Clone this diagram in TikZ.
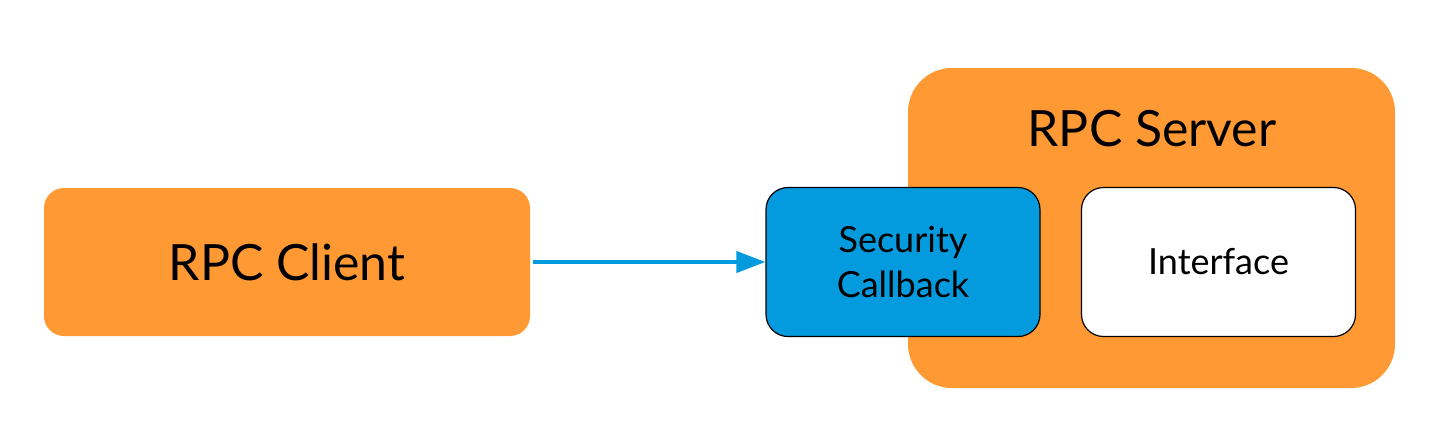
\documentclass[tikz,border=0pt]{standalone}
\usepackage{fontspec}
\setmainfont{Lato}
\usetikzlibrary{arrows.meta}
\definecolor{rpcorange}{RGB}{255,153,51}
\definecolor{rpcblue}{RGB}{3,155,222}
\tikzset{
  block/.style={fill=rpcorange,rounded corners=10pt,inner sep=0pt,font=\fontsize{25}{30}\selectfont},
  inner/.style={draw=black,line width=0.6pt,rounded corners=11pt,minimum width=137pt,minimum height=74.5pt,
    align=center,font=\fontsize{18}{22.5}\selectfont}
}
\begin{document}
\begin{tikzpicture}[x=0.5pt,y=-0.5pt]
  \useasboundingbox (0,0) rectangle (1440,440);
  \node[block,minimum width=243pt,minimum height=74pt] (client) at (287,262) {RPC Client};
  \node[block,rounded corners=22pt,minimum width=243.5pt,minimum height=160pt] (server) at (1151.5,228) {};
  \node[font=\fontsize{25}{30}\selectfont] (servertitle) at (1152,129) {RPC Server};
  \node[inner,fill=rpcblue] (callback) at (903,262) {Security\\Callback};
  \node[inner,fill=white] (iface) at (1218.5,262) {Interface};
  \draw[rpcblue,line width=2pt,-{Triangle[length=14.5pt,width=10.5pt]}] ([xshift=1.5pt]client.east) -- (callback.west);
\end{tikzpicture}
\end{document}
